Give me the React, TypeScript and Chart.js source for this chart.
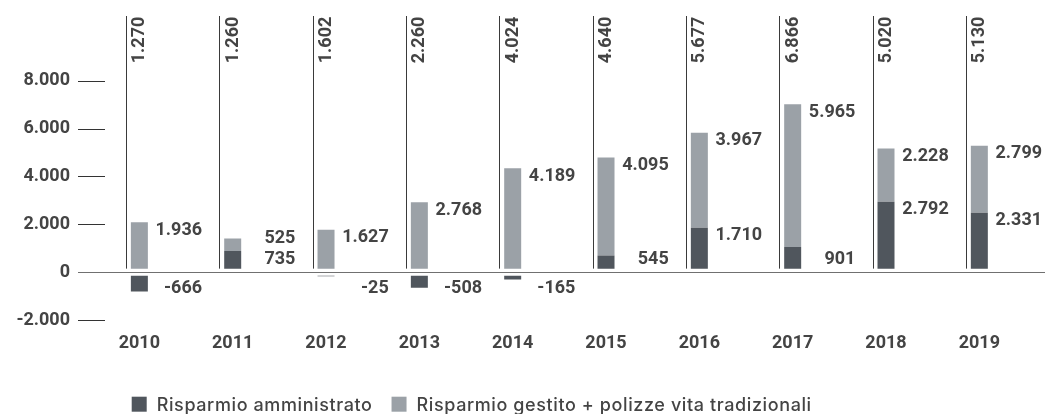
import React, { useEffect, useRef } from "react";
import { Chart, registerables } from "chart.js";

Chart.register(...registerables);

// ---- data ----
const years = ["2010", "2011", "2012", "2013", "2014", "2015", "2016", "2017", "2018", "2019"];
const amministrato = [-666, 735, -25, -508, -165, 545, 1710, 901, 2792, 2331];
const gestito = [1936, 525, 1627, 2768, 4189, 4095, 3967, 5965, 2228, 2799];
const yTicks = [-2000, 0, 2000, 4000, 6000, 8000];
const seriesLabels = ["Risparmio amministrato", "Risparmio gestito + polizze vita tradizionali"];
const seriesColors = ["#50565d", "#9ba1a7"];

// ---- style ----
const FONT_FAMILY = "Roboto, 'Liberation Sans', sans-serif";
const LEGEND_FAMILY = "Inter, Roboto, sans-serif";
const TEXT_COLOR = "#444444";
const LABEL_FONT = `bold 18px ${FONT_FAMILY}`;
const GAP = 3.5;
const LEGEND_SPACING = 0.6;

const fmt = (v: number) => {
  const s = String(Math.abs(Math.round(v))).replace(/\B(?=(\d{3})+(?!\d))/g, ".");
  return v < 0 ? "-" + s : s;
};

const gapPlugin = {
  id: "gapPlugin",
  afterDatasetsUpdate(chart: any) {
    chart.data.datasets.forEach((ds: any, di: number) => {
      const meta = chart.getDatasetMeta(di);
      meta.data.forEach((el: any, i: number) => {
        const v = ds.data[i] as number;
        const d = v >= 0 ? -GAP : GAP;
        el.y += d;
        el.base += d;
      });
    });
  },
};

const decorPlugin = {
  id: "decorPlugin",
  beforeDatasetsDraw(chart: any) {
    const { ctx, chartArea, scales } = chart;
    const y = scales.y;
    const zero = y.getPixelForValue(0);
    const meta0 = chart.getDatasetMeta(0);
    ctx.save();
    // separators
    ctx.strokeStyle = "#3a3a3a";
    ctx.lineWidth = 1;
    meta0.data.forEach((el: any) => {
      const x = Math.round(el.x - el.width / 2 - 5) + 0.5;
      ctx.beginPath();
      ctx.moveTo(x, chartArea.top);
      ctx.lineTo(x, zero - GAP);
      ctx.stroke();
    });
    // y tick marks
    yTicks.forEach((v) => {
      if (v === 0) return;
      const py = Math.round(y.getPixelForValue(v)) + 0.5;
      ctx.strokeStyle = "#333333";
      ctx.beginPath();
      ctx.moveTo(78, py);
      ctx.lineTo(105, py);
      ctx.stroke();
    });
    // zero line
    const pz = Math.round(zero) + 0.5;
    ctx.strokeStyle = "#707070";
    ctx.lineWidth = 1.2;
    ctx.beginPath();
    ctx.moveTo(78, pz);
    ctx.lineTo(chart.width, pz);
    ctx.stroke();
    ctx.restore();
  },
  afterDatasetsDraw(chart: any) {
    const { ctx, chartArea, scales } = chart;
    const zero = scales.y.getPixelForValue(0);
    const meta0 = chart.getDatasetMeta(0);
    const meta1 = chart.getDatasetMeta(1);
    ctx.save();
    ctx.fillStyle = TEXT_COLOR;
    ctx.font = LABEL_FONT;
    years.forEach((_, i) => {
      const d = meta0.data[i] as any;
      const g = meta1.data[i] as any;
      const xr = d.x + 62.7;
      const dv = amministrato[i];
      const gv = gestito[i];
      ctx.textAlign = "right";
      ctx.textBaseline = "middle";
      let dy: number;
      if (dv < 0) dy = zero + 16;
      else if (dv < 1000) dy = zero - 13;
      else dy = d.y + 8;
      let gy = g.y + 8;
      if (dv >= 0 && gy > dy - 21) gy = dy - 21;
      ctx.fillText(fmt(dv), xr, dy);
      ctx.fillText(fmt(gv), xr, gy);
      // total rotated
      ctx.save();
      ctx.translate(d.x + 0.5, chartArea.top + 0.7);
      ctx.rotate(-Math.PI / 2);
      ctx.textAlign = "right";
      ctx.textBaseline = "middle";
      ctx.fillText(fmt(dv + gv), 0, 0);
      ctx.restore();
    });
    ctx.restore();
  },
  afterDraw(chart: any) {
    const { ctx } = chart;
    ctx.save();
    ctx.font = `500 18px ${LEGEND_FAMILY}`;
    ctx.textAlign = "left";
    ctx.textBaseline = "alphabetic";
    const hasSpacing = "letterSpacing" in ctx;
    let x = 131.7;
    const boxTop = 396.7;
    seriesLabels.forEach((lab, i) => {
      ctx.fillStyle = seriesColors[i];
      ctx.fillRect(x, boxTop, 15, 15);
      ctx.fillStyle = TEXT_COLOR;
      let w: number;
      if (hasSpacing) {
        (ctx as any).letterSpacing = "0px";
        const base = ctx.measureText(lab).width;
        (ctx as any).letterSpacing = `${LEGEND_SPACING}px`;
        ctx.fillText(lab, x + 25, 411);
        w = base + lab.length * LEGEND_SPACING;
      } else {
        ctx.fillText(lab, x + 25, 411);
        w = ctx.measureText(lab).width;
      }
      x += 25 + w + 19;
    });
    ctx.restore();
  },
};

export default function App() {
  const ref = useRef<HTMLCanvasElement | null>(null);
  useEffect(() => {
    if (!ref.current) return;
    const tickFont = { family: FONT_FAMILY, size: 18, weight: "bold" as const };
    const chart = new Chart(ref.current, {
      type: "bar",
      data: {
        labels: years,
        datasets: [
          { label: seriesLabels[0], data: amministrato, backgroundColor: seriesColors[0], barThickness: 17, inflateAmount: 0 } as any,
          { label: seriesLabels[1], data: gestito, backgroundColor: seriesColors[1], barThickness: 17, inflateAmount: 0 } as any,
        ],
      },
      options: {
        responsive: false,
        animation: false,
        devicePixelRatio: 1,
        layout: { padding: { top: 16, right: 19, bottom: 0, left: 0 } },
        plugins: { legend: { display: false }, tooltip: { enabled: false } },
        scales: {
          x: {
            stacked: true,
            offset: true,
            grid: { display: false, drawTicks: false },
            border: { display: false },
            ticks: { font: tickFont, color: TEXT_COLOR, padding: 13, maxRotation: 0, autoSkip: false },
            afterFit: (s: any) => {
              s.height = 94;
              s.paddingLeft = 0;
              s.paddingRight = 0;
            },
          },
          y: {
            stacked: true,
            min: -2000,
            max: 10700,
            grid: { display: false, drawTicks: false },
            border: { display: false },
            afterBuildTicks: (s: any) => { s.ticks = yTicks.map((v) => ({ value: v })); },
            ticks: { font: tickFont, color: TEXT_COLOR, padding: 22.7, callback: (v: any) => fmt(Number(v)) },
            afterFit: (s: any) => {
              s.width = 92.7;
              s.paddingTop = 0;
              s.paddingBottom = 0;
            },
          },
        },
      },
      plugins: [gapPlugin, decorPlugin],
    });
    return () => chart.destroy();
  }, []);
  return (
    <div style={{ position: "fixed", left: 0, top: 0, width: 1045, height: 414, background: "#fff" }}>
      <canvas ref={ref} width={1045} height={414} style={{ display: "block" }} />
    </div>
  );
}
